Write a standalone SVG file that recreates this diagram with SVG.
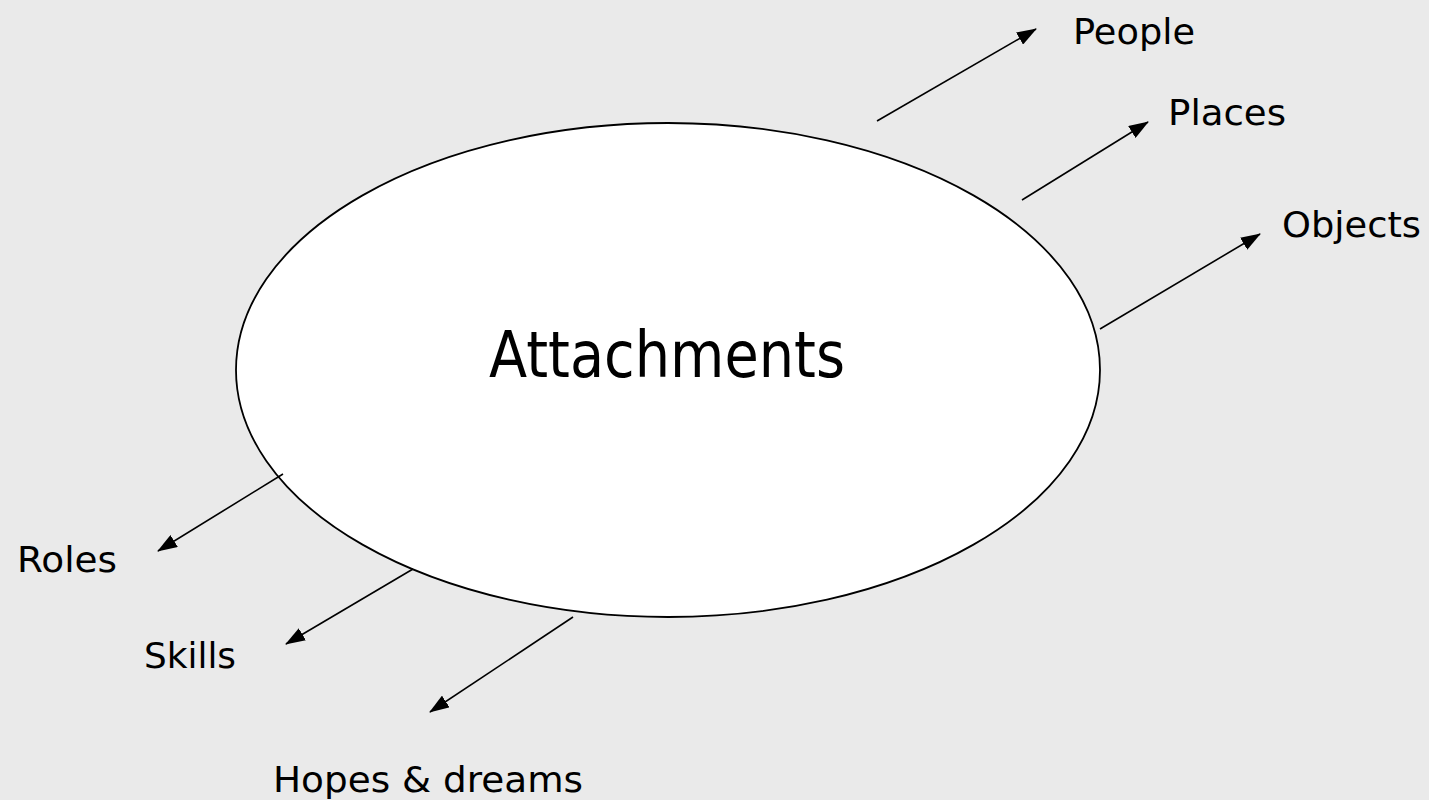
<svg xmlns="http://www.w3.org/2000/svg" width="1429" height="800" viewBox="0 0 1429 800">
<defs>
<marker id="ah" markerUnits="userSpaceOnUse" markerWidth="20" markerHeight="14" refX="19" refY="7" orient="auto">
<path d="M0,0 L20,7 L0,14 z" fill="#000"/>
</marker>
<style>
.lbl{font-family:"DejaVu Sans",sans-serif;font-size:35px;fill:#000}
.main{font-family:"DejaVu Sans",sans-serif;font-size:64px;fill:#000}
.conn line{stroke:#000;stroke-width:1.6;marker-end:url(#ah)}
</style>
</defs>
<rect x="0" y="0" width="1429" height="800" fill="#EAEAEA"/>
<g id="attachments">
<ellipse cx="668" cy="370" rx="432" ry="247" fill="#fff" stroke="#000" stroke-width="1.8"/>
<text class="main" x="489" y="377" textLength="356" lengthAdjust="spacingAndGlyphs">Attachments</text>
</g>
<g id="people"><text class="lbl" x="1073" y="44" textLength="122" lengthAdjust="spacingAndGlyphs">People</text></g>
<g id="places"><text class="lbl" x="1168" y="125" textLength="118" lengthAdjust="spacingAndGlyphs">Places</text></g>
<g id="objects"><text class="lbl" x="1282" y="237" textLength="139" lengthAdjust="spacingAndGlyphs">Objects</text></g>
<g id="roles"><text class="lbl" x="17" y="572" textLength="100" lengthAdjust="spacingAndGlyphs">Roles</text></g>
<g id="skills"><text class="lbl" x="144" y="668" textLength="92" lengthAdjust="spacingAndGlyphs">Skills</text></g>
<g id="hopes"><text class="lbl" x="273" y="792" textLength="310" lengthAdjust="spacingAndGlyphs">Hopes &amp; dreams</text></g>
<g id="connectors" class="conn">
<line x1="877" y1="121" x2="1036" y2="29"/>
<line x1="1022" y1="200" x2="1148" y2="122"/>
<line x1="1100" y1="329" x2="1260" y2="234"/>
<line x1="283" y1="474" x2="158" y2="551"/>
<line x1="413" y1="569" x2="286" y2="644"/>
<line x1="573" y1="617" x2="430" y2="712"/>
</g>
</svg>
